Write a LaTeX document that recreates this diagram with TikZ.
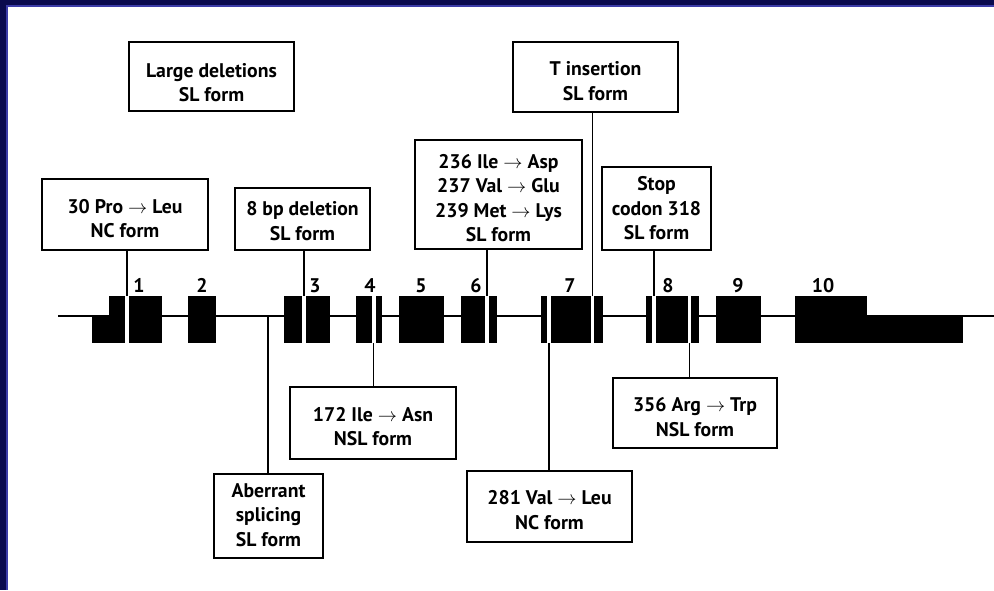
\documentclass[tikz,border=0pt]{standalone}
\usepackage{fontspec}
\setmainfont{PT Sans}
\definecolor{navy}{HTML}{0A0A4E}
\definecolor{rimblue}{HTML}{3C3CA8}
\tikzset{
  mbox/.style 2 args={draw=black, line width=1.3pt, inner sep=0pt, fill=white,
    minimum width=#1*0.75pt, minimum height=#2*0.75pt},
  btext/.style={inner sep=0pt, align=center, font=\bfseries\fontsize{14.8}{18.4}\selectfont},
  conn/.style={draw=black, line width=1.1pt},
  exnum/.style={anchor=base, inner sep=0pt, font=\bfseries\fontsize{14.8}{17}\selectfont},
  exon/.style={fill=black},
  gap/.style={fill=white}
}
\begin{document}
\begin{tikzpicture}[x=0.75pt,y=-0.75pt]
\useasboundingbox (0,0) rectangle (994,590);
\fill[white] (0,0) rectangle (994,590);
\fill[navy] (0,0) rectangle (994,5);
\fill[navy] (0,0) rectangle (6,590);
\fill[rimblue] (6,5) rectangle (994,7);
\fill[rimblue] (6,5) rectangle (8,590);
% gene line
\draw[conn] (58,316) -- (994,316);
% exons
\fill[exon] (92,316) rectangle (109,343);
\fill[exon] (109,296) rectangle (162,343);
\fill[gap] (125.2,296) rectangle (128.8,343);
\fill[exon] (188,296) rectangle (216,343);
\fill[exon] (284,296) rectangle (330,343);
\fill[gap] (302.2,296) rectangle (305.8,343);
\fill[exon] (356,296) rectangle (382,343);
\fill[gap] (372,296) rectangle (375.5,343);
\fill[exon] (399,296) rectangle (444,343);
\fill[exon] (461,296) rectangle (497,343);
\fill[gap] (485.2,296) rectangle (488.8,343);
\fill[exon] (541,296) rectangle (603,343);
\fill[gap] (547,296) rectangle (550.5,343);
\fill[gap] (590.5,296) rectangle (594,343);
\fill[exon] (646,296) rectangle (699,343);
\fill[gap] (652,296) rectangle (655.8,343);
\fill[gap] (687.5,296) rectangle (691.2,343);
\fill[exon] (716,296) rectangle (761,343);
\fill[exon] (795,296) rectangle (867,343);
\fill[exon] (866,316) rectangle (963,343);
% exon numbers
\node[exnum] (e1) at (139,292) {1};
\node[exnum] (e2) at (202,292) {2};
\node[exnum] (e3) at (315,292) {3};
\node[exnum] (e4) at (370,292) {4};
\node[exnum] (e5) at (421,292) {5};
\node[exnum] (e6) at (476,292) {6};
\node[exnum] (e7) at (570,292) {7};
\node[exnum] (e8) at (668,292) {8};
\node[exnum] (e9) at (738,292) {9};
\node[exnum] (e10) at (823,292) {10};
% attachment points
\coordinate (p1) at (127,296);
\coordinate (p3) at (304,296);
\coordinate (p4) at (373.7,343);
\coordinate (p6) at (487,296);
\coordinate (p7a) at (548.8,343);
\coordinate (p7b) at (592.3,296);
\coordinate (p8a) at (654,296);
\coordinate (p8b) at (689.3,343);
\coordinate (pab) at (268,316);
% boxes
\node[mbox={165}{69}] (large) at (211.5,76.5) {};
\node[btext] (large-t) at ([yshift=-6*0.75pt]large.center) {Large deletions\\SL form};
\node[mbox={165}{70}] (tins) at (595.5,77) {};
\node[btext] (tins-t) at ([yshift=-4*0.75pt]tins.center) {T insertion\\SL form};
\node[mbox={166}{71}] (p30) at (125,214.5) {};
\node[btext] (p30-t) at ([yshift=-4*0.75pt]p30.center) {30 Pro $\rightarrow$ Leu\\NC form};
\node[mbox={135}{62}] (bp8) at (302.5,219) {};
\node[btext] (bp8-t) at ([yshift=-2*0.75pt]bp8.center) {8 bp deletion\\SL form};
\node[mbox={167}{109}] (m236) at (498.5,194.5) {};
\node[btext] (m236-t) at ([yshift=-3.5*0.75pt]m236.center) {236 Ile $\rightarrow$ Asp\\237 Val $\rightarrow$ Glu\\239 Met $\rightarrow$ Lys\\SL form};
\node[mbox={109}{83}] (stop) at (656.5,208.5) {};
\node[btext] (stop-t) at (stop.center) {Stop\\codon 318\\SL form};
\node[mbox={166}{72}] (i172) at (373,423) {};
\node[btext] (i172-t) at ([yshift=-3.5*0.75pt]i172.center) {172 Ile $\rightarrow$ Asn\\NSL form};
\node[mbox={109}{84}] (aber) at (268.5,516) {};
\node[btext] (aber-t) at ([yshift=1*0.75pt]aber.center) {Aberrant\\splicing\\SL form};
\node[mbox={165}{71}] (v281) at (549.5,506.5) {};
\node[btext] (v281-t) at ([yshift=-3.5*0.75pt]v281.center) {281 Val $\rightarrow$ Leu\\NC form};
\node[mbox={164}{70}] (r356) at (695,413) {};
\node[btext] (r356-t) at ([yshift=-4*0.75pt]r356.center) {356 Arg $\rightarrow$ Trp\\NSL form};
% connectors
\draw[conn] (p30.south -| p1) -- (p1);
\draw[conn] (bp8.south -| p3) -- (p3);
\draw[conn] (m236.south -| p6) -- (p6);
\draw[conn] (tins.south -| p7b) -- (p7b);
\draw[conn] (stop.south -| p8a) -- (p8a);
\draw[conn] (p4) -- (p4 |- i172.north);
\draw[conn] (p7a) -- (p7a |- v281.north);
\draw[conn] (p8b) -- (p8b |- r356.north);
\draw[conn] (pab) -- (pab |- aber.north);
\end{tikzpicture}
\end{document}
